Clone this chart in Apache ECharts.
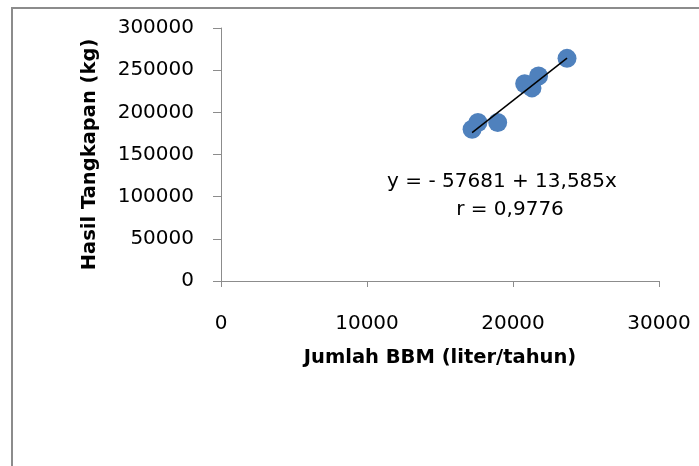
<!DOCTYPE html>
<html>
<head>
<meta charset="utf-8">
<script src="https://cdn.jsdelivr.net/npm/echarts@6/dist/echarts.min.js"></script>
<style>
    html, body { margin: 0; padding: 0; background: #fff; }
    #chart { width: 699px; height: 466px; }
</style>
</head>
<body>
<div id="chart"></div>
<script>
// Data
const bbm = [17200, 17600, 18950, 20800, 21300, 21750, 23700];
const tangkapan = [180000, 188000, 188000, 234000, 229000, 243000, 264000];

// Trendline end points (y = -57681 + 13,585x)
const trendX = [17200, 23700];
const trendY = [176000, 264300];

const xTicks = [0, 10000, 20000, 30000];
const yTicks = [0, 50000, 100000, 150000, 200000, 250000, 300000];

const equationText = 'y = - 57681 + 13,585x';
const rText = 'r = 0,9776';

const fontName = 'DejaVu Sans';

const chart = echarts.init(document.getElementById('chart'));

const option = {
    animation: false,
    backgroundColor: '#fff',
    grid: {
        left: 221,
        right: 40,
        top: 28,
        bottom: 185
    },
    xAxis: {
        type: 'value',
        min: xTicks[0],
        max: xTicks[xTicks.length - 1],
        interval: 10000,
        splitLine: { show: false },
        axisLine: { show: true, lineStyle: { color: '#8c8c8c', width: 1 } },
        axisTick: { show: true, length: 6, lineStyle: { color: '#8c8c8c' } },
        axisLabel: {
            color: '#000',
            fontFamily: fontName,
            fontSize: 20,
            margin: 33,
            formatter: v => String(v)
        },
        name: 'Jumlah BBM (liter/tahun)',
        nameLocation: 'middle',
        nameGap: 67,
        nameTextStyle: {
            color: '#000',
            fontFamily: fontName,
            fontWeight: 'bold',
            fontSize: 19.5
        }
    },
    yAxis: {
        type: 'value',
        min: yTicks[0],
        max: yTicks[yTicks.length - 1],
        interval: 50000,
        splitLine: { show: false },
        axisLine: { show: true, lineStyle: { color: '#8c8c8c', width: 1 } },
        axisTick: { show: true, length: 8, lineStyle: { color: '#8c8c8c' } },
        axisLabel: {
            color: '#000',
            fontFamily: fontName,
            fontSize: 20,
            margin: 27,
            formatter: v => String(v)
        },
        name: 'Hasil Tangkapan (kg)',
        nameLocation: 'middle',
        nameGap: 121,
        nameTextStyle: {
            color: '#000',
            fontFamily: fontName,
            fontWeight: 'bold',
            fontSize: 19.5
        }
    },
    graphic: [
        {
            type: 'rect',
            shape: { x: 12, y: 8, width: 800, height: 600 },
            style: { fill: 'none', stroke: '#8c8c8c', lineWidth: 2 },
            silent: true
        },
        {
            type: 'text',
            x: 502,
            y: 182,
            style: {
                text: equationText,
                fill: '#000',
                font: '20px "' + fontName + '"',
                textAlign: 'center',
                textVerticalAlign: 'middle'
            }
        },
        {
            type: 'text',
            x: 510,
            y: 210,
            style: {
                text: rText,
                fill: '#000',
                font: '20px "' + fontName + '"',
                textAlign: 'center',
                textVerticalAlign: 'middle'
            }
        }
    ],
    series: [
        {
            type: 'scatter',
            symbol: 'circle',
            symbolSize: 19,
            itemStyle: { color: '#4F81BD', opacity: 1 },
            data: bbm.map((x, i) => [x, tangkapan[i]]),
            z: 2
        },
        {
            type: 'line',
            symbol: 'none',
            lineStyle: { color: '#000', width: 1.5 },
            data: trendX.map((x, i) => [x, trendY[i]]),
            z: 3
        }
    ]
};

chart.setOption(option);
</script>
</body>
</html>
